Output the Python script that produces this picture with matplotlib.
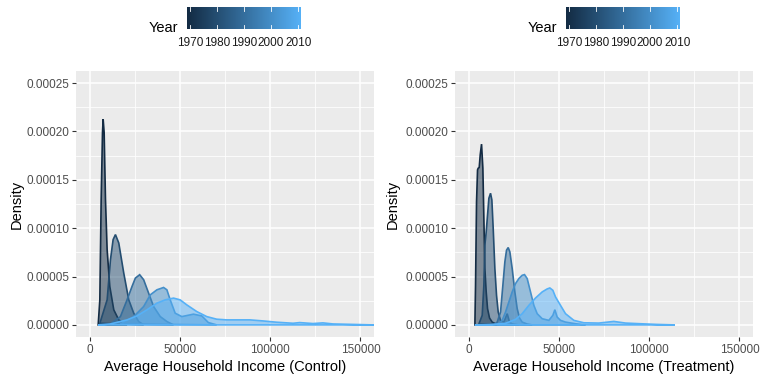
import matplotlib
matplotlib.use("Agg")
import matplotlib.pyplot as plt
import numpy as np
from matplotlib.colors import LinearSegmentedColormap

plt.rcParams['font.family'] = ['Liberation Sans', 'DejaVu Sans']

# ---------------- data ----------------
years = [1970, 1980, 1990, 2000, 2010]

# Control panel density curves
ctrl_1970_x = [4778, 5697, 6433, 7168, 7535, 8087, 8822, 9741, 11211, 13417, 16174, 18931, 20769]
ctrl_1970_y = [0, 0.0000259, 0.0001297, 0.0001988, 0.0002127, 0.0001988, 0.0001297, 0.0000778,
               0.0000398, 0.0000156, 0.0000052, 0.0000017, 0]
ctrl_1980_x = [5700, 9750, 11580, 13050, 14340, 16180, 18940, 21700, 24460, 27200, 29950]
ctrl_1980_y = [0.0000017, 0.000026, 0.0000674, 0.0000882, 0.0000934, 0.0000847, 0.0000536,
               0.000026, 0.0000121, 0.0000035, 0]
ctrl_1990_x = [11579, 17093, 20769, 23526, 25364, 27753, 29959, 32716, 35473, 39149, 42825, 46501]
ctrl_1990_y = [0.000001, 0.0000086, 0.0000259, 0.0000398, 0.0000484, 0.0000519, 0.0000467,
               0.0000328, 0.000019, 0.0000086, 0.0000035, 0]
ctrl_2000_x = [17093, 24445, 29959, 33635, 37311, 40987, 42825, 44663, 47420, 51096, 57529,
               62124, 65800, 70395]
ctrl_2000_y = [0.000001, 0.0000086, 0.000019, 0.0000311, 0.0000363, 0.0000387, 0.0000363,
               0.0000259, 0.0000121, 0.0000086, 0.0000111, 0.0000093, 0.0000024, 0]
ctrl_2010_x = [4778, 11579, 20769, 26283, 31797, 37311, 41906, 46501, 50177, 53853, 59367,
               64881, 70395, 75909, 81423, 88775, 96127, 103479, 112669, 116345, 123697,
               129211, 134725, 157332]
ctrl_2010_y = [0, 0.000001, 0.0000052, 0.0000093, 0.0000156, 0.0000225, 0.0000259, 0.0000277,
               0.0000259, 0.0000207, 0.0000138, 0.0000086, 0.0000059, 0.0000052, 0.0000052,
               0.0000052, 0.0000041, 0.0000028, 0.0000017, 0.0000024, 0.0000014, 0.0000021,
               0.000001, 0]

# Treatment panel density curves
trt_1970_x = [3506, 3874, 4428, 4982, 5350, 5904, 6458, 7196, 7934, 8487, 9041, 9779, 10517,
              11624, 13100, 14945, 16790]
trt_1970_y = [0, 0.000041, 0.0001274, 0.0001603, 0.000162, 0.0001627, 0.0001758, 0.0001869,
              0.000162, 0.0001101, 0.0000583, 0.0000341, 0.0000168, 0.0000071, 0.0000029,
              0.0000012, 0]
trt_1980_x = [5720, 7565, 8487, 9041, 9779, 10517, 11254, 12177, 12915, 13653, 14576, 15498,
              16421, 17712, 19557, 21402, 22694, 24170, 27860]
trt_1980_y = [0.0000009, 0.0000099, 0.000041, 0.0000825, 0.0000963, 0.0001136, 0.0001309,
              0.0001361, 0.0001292, 0.0000998, 0.0000583, 0.0000306, 0.0000133, 0.0000047,
              0.0000029, 0.0000116, 0.0000029, 0.0000009, 0]
trt_1990_x = [14022, 15867, 17712, 19003, 20110, 21033, 21956, 22878, 24170, 25646, 26937,
              28229, 29705, 32472, 35240]
trt_1990_y = [0, 0.0000029, 0.0000133, 0.000041, 0.0000652, 0.0000773, 0.00008, 0.0000755,
              0.0000583, 0.0000341, 0.0000168, 0.0000071, 0.0000029, 0.0000009, 0]
trt_2000_x = [15867, 18634, 20479, 22324, 24170, 26015, 27860, 29705, 30996, 32472, 34317,
              36162, 38007, 40775, 44465, 46679, 47786, 49078, 50923, 53690, 59225, 64760]
trt_2000_y = [0, 0.0000047, 0.0000133, 0.0000237, 0.0000341, 0.0000427, 0.0000479, 0.0000513,
              0.000052, 0.0000479, 0.0000341, 0.0000202, 0.0000116, 0.0000064, 0.0000047,
              0.0000099, 0.0000157, 0.0000081, 0.0000047, 0.0000029, 0.0000012, 0]
trt_2010_x = [3506, 13100, 20479, 26015, 29705, 33395, 37085, 40775, 43542, 45018, 46679,
              48155, 50923, 53690, 58302, 63837, 72140, 80442, 86900, 95202, 104428, 114206]
trt_2010_y = [0, 0.0000005, 0.0000016, 0.0000057, 0.0000116, 0.0000202, 0.0000278, 0.0000341,
              0.0000372, 0.0000382, 0.0000358, 0.0000289, 0.0000202, 0.0000116, 0.0000047,
              0.0000022, 0.0000019, 0.0000036, 0.0000019, 0.0000012, 0.0000005, 0]

x_ticks = [0, 50000, 100000, 150000]
x_tick_labels = ["0", "50000", "100000", "150000"]
y_ticks = [0, 0.00005, 0.0001, 0.00015, 0.0002, 0.00025]
y_tick_labels = ["0.00000", "0.00005", "0.00010", "0.00015", "0.00020", "0.00025"]
cbar_ticks = [1970, 1980, 1990, 2000, 2010]

panels = [
    ("Average Household Income (Control)",
     {1970: (ctrl_1970_x, ctrl_1970_y), 1980: (ctrl_1980_x, ctrl_1980_y),
      1990: (ctrl_1990_x, ctrl_1990_y), 2000: (ctrl_2000_x, ctrl_2000_y),
      2010: (ctrl_2010_x, ctrl_2010_y)}),
    ("Average Household Income (Treatment)",
     {1970: (trt_1970_x, trt_1970_y), 1980: (trt_1980_x, trt_1980_y),
      1990: (trt_1990_x, trt_1990_y), 2000: (trt_2000_x, trt_2000_y),
      2010: (trt_2010_x, trt_2010_y)}),
]

# ---------------- styling ----------------
W, H = 761, 381
fig = plt.figure(figsize=(W / 100, H / 100), dpi=100)
cmap = LinearSegmentedColormap.from_list("gg", ["#132B43", "#56B1F7"])
ymin_year, ymax_year = min(years), max(years)

def fx(px):
    return px / W

def fy(py):
    return 1 - py / H

panel_boxes = [(76, 374), (455, 753)]
top, bottom = 71, 337
ylab_x = [17, 393]
legend_title_x = [163, 542]
bar_x = [(187, 301), (566, 680)]

for i, (xlabel, curves) in enumerate(panels):
    l, r = panel_boxes[i]
    ax = fig.add_axes([fx(l), fy(bottom), (r - l) / W, (bottom - top) / H])
    ax.set_facecolor("#EBEBEB")
    ax.set_xlim(-7500, 157500)
    ax.set_ylim(-0.0000125, 0.0002625)
    ax.set_xticks(x_ticks)
    ax.set_xticklabels(x_tick_labels)
    ax.set_xticks([25000, 75000, 125000], minor=True)
    ax.set_yticks(y_ticks)
    ax.set_yticklabels(y_tick_labels)
    ax.set_yticks([0.000025, 0.000075, 0.000125, 0.000175, 0.000225], minor=True)
    ax.grid(which="major", color="white", linewidth=1.1)
    ax.grid(which="minor", color="white", linewidth=0.55)
    ax.set_axisbelow(True)
    for s in ax.spines.values():
        s.set_visible(False)
    ax.tick_params(which="major", length=3, width=0.8, color="#333333",
                   labelsize=8.5, labelcolor="#4D4D4D", pad=2)
    ax.tick_params(which="minor", length=0)
    for yr in years:
        xs, ys = curves[yr]
        c = cmap((yr - ymin_year) / (ymax_year - ymin_year))
        ax.fill(xs, ys, facecolor=c, alpha=0.5, edgecolor="none", zorder=3)
        ax.fill(xs, ys, facecolor="none", edgecolor=c, linewidth=1.2, zorder=3)
    ax.set_xlabel(xlabel, fontsize=10.5, color="black", labelpad=3)
    fig.text(fx(ylab_x[i]), fy((top + bottom) / 2), "Density", rotation=90,
             ha="center", va="center", fontsize=10.5)

    # colorbar legend
    b0, b1 = bar_x[i]
    cax = fig.add_axes([fx(b0), fy(29), (b1 - b0) / W, 22 / H])
    half = (ymax_year - ymin_year) / 19 / 2
    grad = np.linspace(0, 1, 256).reshape(1, -1)
    cax.imshow(grad, aspect="auto", cmap=cmap,
               extent=[ymin_year - half, ymax_year + half, 0, 1])
    cax.set_xlim(ymin_year - half, ymax_year + half)
    cax.set_ylim(0, 1)
    for t in cbar_ticks:
        cax.plot([t, t], [0, 0.2], color="white", linewidth=0.6)
        cax.plot([t, t], [0.8, 1], color="white", linewidth=0.6)
    cax.set_xticks(cbar_ticks)
    cax.set_xticklabels([str(t) for t in cbar_ticks])
    cax.tick_params(length=0, labelsize=8.5, labelcolor="#1A1A1A", pad=6)
    cax.set_yticks([])
    for s in cax.spines.values():
        s.set_visible(False)
    fig.text(fx(legend_title_x[i]), fy(28), "Year", ha="center", va="center",
             fontsize=10.5)

fig.savefig("out.png", dpi=100, facecolor="white")
